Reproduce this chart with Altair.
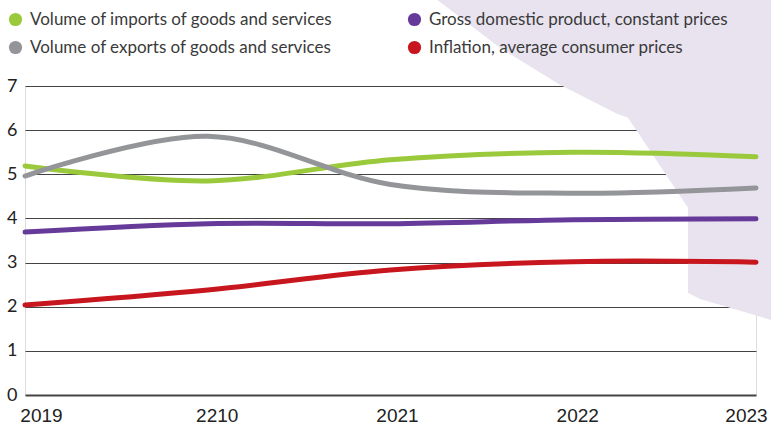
import altair as alt
import pandas as pd

# ---- data ----
years = ["2019", "2210", "2021", "2022", "2023"]
series_names = [
    "Volume of imports of goods and services",
    "Volume of exports of goods and services",
    "Gross domestic product, constant prices",
    "Inflation, average consumer prices",
]
imports = [5.19, 4.85, 5.33, 5.50, 5.40]
exports = [4.96, 5.86, 4.77, 4.57, 4.69]
gdp = [3.69, 3.88, 3.88, 3.97, 3.99]
inflation = [2.04, 2.38, 2.83, 3.02, 3.01]
series_colors = ["#9bc93c", "#949599", "#663a99", "#c8161e"]

# decorative lavender backdrop: left edge (x in year index) for each height (value units)
shape_y = [8.957, 7.868, 7.029, 6.372, 6.281, 4.240, 2.313, 2.177, 1.701]
shape_x = [2.254, 2.599, 2.927, 3.239, 3.300, 3.628, 3.628, 3.694, 4.082]
shape_right = 4.082

rows = []
for name, vals in zip(series_names, [imports, exports, gdp, inflation]):
    for i, v in enumerate(vals):
        rows.append({"series": name, "idx": i, "value": v})
df = pd.DataFrame(rows)

shape_df = pd.DataFrame({"sx": shape_x, "sy": shape_y, "right": [shape_right] * len(shape_x)})

label_expr = "[" + ",".join("'%s'" % y for y in years) + "][datum.value]"

x_scale = alt.Scale(domain=[0, 4], nice=False, zero=False)
y_scale = alt.Scale(domain=[0, 7], nice=False)
c_scale = alt.Scale(domain=series_names, range=series_colors)

x_axis = alt.Axis(
    title=None,
    values=[0, 1, 2, 3, 4],
    labelExpr=label_expr,
    grid=False,
    domain=False,
    ticks=False,
    labelFont="Liberation Sans",
    labelFontSize=19,
    labelColor="#222222",
    labelPadding=11,
    labelOffset=alt.ExprRef("[16, 9, 6.5, 4, -10][datum.value]"),
    labelFlush=False,
    labelOverlap=False,
)
y_axis = alt.Axis(
    title=None,
    values=[0, 1, 2, 3, 4, 5, 6, 7],
    grid=True,
    gridColor="#444444",
    gridWidth=alt.ExprRef("datum.value == 0 ? 2 : 1.2"),
    domain=False,
    ticks=False,
    labelFont="Lato",
    labelFontSize=18,
    labelColor="#222222",
    labelPadding=8,
)
legend = alt.Legend(
    title=None,
    orient="none",
    legendX=-18,
    legendY=-75,
    columns=2,
    columnPadding=73,
    rowPadding=10,
    clipHeight=17,
    symbolType="circle",
    symbolSize=175,
    symbolStrokeWidth=0,
    symbolOpacity=1,
    labelFont="Lato",
    labelFontSize=17,
    labelColor="#3a3a3a",
    labelOffset=6,
    labelLimit=500,
    padding=0,
)

backdrop = alt.Chart(shape_df).mark_area(
    color="#e8e3ef", clip=False, orient="horizontal"
).encode(
    y=alt.Y("sy:Q", scale=y_scale, axis=y_axis),
    x=alt.X("sx:Q", scale=x_scale, axis=x_axis),
    x2="right:Q",
)

keys = alt.Chart(df).transform_filter("datum.idx < 0").mark_circle(size=175, opacity=1).encode(
    x=alt.X("idx:Q", scale=x_scale, axis=x_axis),
    y=alt.Y("value:Q", scale=y_scale, axis=y_axis),
    color=alt.Color("series:N", scale=c_scale, legend=legend),
)

lines = alt.Chart(df).mark_line(
    strokeWidth=5, strokeCap="round", interpolate="catmull-rom"
).encode(
    x=alt.X("idx:Q", scale=x_scale, axis=x_axis),
    y=alt.Y("value:Q", scale=y_scale, axis=y_axis),
    color=alt.Color("series:N", scale=c_scale, legend=legend),
    detail="series:N",
)

chart = alt.layer(backdrop, keys, lines).properties(
    width=731,
    height=309,
    autosize=alt.AutoSizeParams(type="none"),
    padding={"left": 25, "top": 86, "right": 15, "bottom": 32},
).configure_view(strokeWidth=0, stroke="transparent").configure(background="white")

chart.save("out.html", embed_options={"renderer": "svg", "actions": False})
